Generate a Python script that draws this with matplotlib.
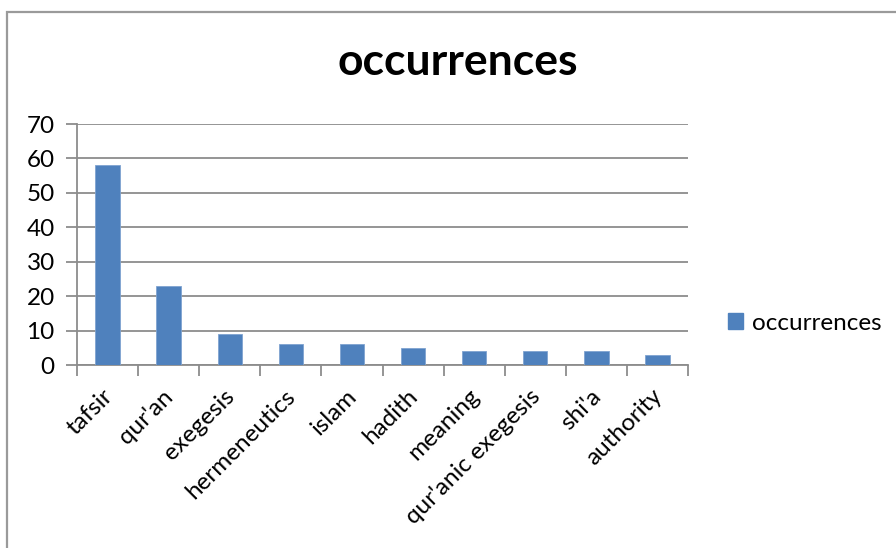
import matplotlib.pyplot as plt
import matplotlib.transforms as mtransforms
from matplotlib.patches import Rectangle, Patch

plt.rcParams['font.family'] = ['Lato', 'DejaVu Sans']

keywords = ['tafsir', "qur'an", 'exegesis', 'hermeneutics', 'islam', 'hadith',
            'meaning', "qur'anic exegesis", "shi'a", 'authority']
occurrences = [58, 23, 9, 6, 6, 5, 4, 4, 4, 3]
y_ticks = [0, 10, 20, 30, 40, 50, 60, 70]

bar_color = '#4F81BD'
grid_color = '#8C8C8C'
label_size = 17.5

fig = plt.figure(figsize=(8.96, 5.48), dpi=100)
ax = fig.add_axes([77 / 896, 1 - 365 / 548, 611 / 896, 241 / 548])

# outer chart frame (cut off on the right and bottom like the screenshot)
fig.patches.append(Rectangle((7 / 896, -0.2), 1.2, 1.2 - 11.5 / 548,
                             transform=fig.transFigure, fill=False,
                             edgecolor='#9A9A9A', linewidth=1.6, clip_on=False))

x = range(len(keywords))
ax.bar(x, occurrences, width=0.4, color=bar_color, zorder=3,
       edgecolor='#7FA3D0', linewidth=0.6, label='occurrences')

ax.set_xlim(-0.5, len(keywords) - 0.5)
ax.set_ylim(0, 70)
ax.set_yticks(y_ticks)
ax.yaxis.grid(True, color=grid_color, linewidth=1.3, zorder=0)
ax.set_axisbelow(True)

for side in ['top', 'right']:
    ax.spines[side].set_visible(False)
for side in ['left', 'bottom']:
    ax.spines[side].set_color(grid_color)
    ax.spines[side].set_linewidth(1.3)

ax.tick_params(axis='y', length=8, width=1.3, color=grid_color, labelsize=label_size, pad=8)
ax.set_xticks([i + 0.5 for i in range(-1, len(keywords))], minor=True)
ax.set_xticks(list(x))
ax.set_xticklabels(keywords, rotation=45, ha='right', rotation_mode='anchor', fontsize=label_size)
ax.tick_params(axis='x', which='major', length=0, pad=22)
ax.tick_params(axis='x', which='minor', length=8, width=1.3, color=grid_color)

# nudge the slanted labels up-left a little
shift = mtransforms.ScaledTranslation(-6 / 100, 10 / 100, fig.dpi_scale_trans)
for lbl in ax.get_xticklabels():
    lbl.set_transform(lbl.get_transform() + shift)

fig.text(458 / 896, 1 - 62 / 548, 'occurrences', ha='center', va='center',
         fontsize=32, fontweight='bold')

fig.legend(handles=[Patch(color=bar_color, label='occurrences')],
           loc='center left', bbox_to_anchor=(728 / 896, 1 - 323 / 548),
           frameon=False, fontsize=label_size, handlelength=0.6, handleheight=0.6,
           handletextpad=0.4, borderaxespad=0, borderpad=0)

fig.savefig('out.png', dpi=100)
